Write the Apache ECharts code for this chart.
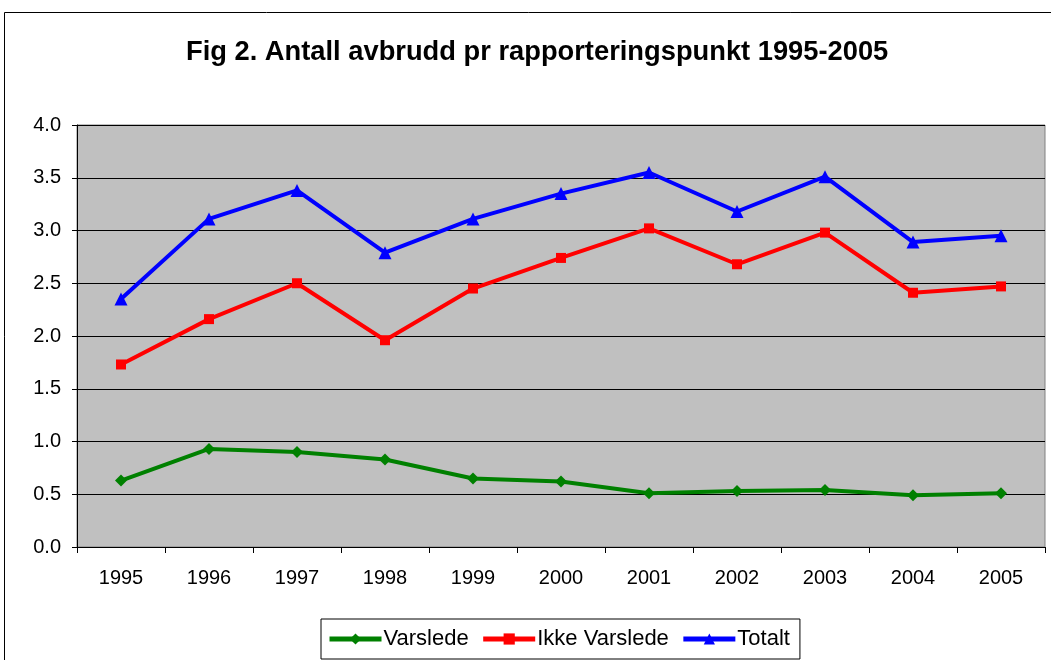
<!DOCTYPE html>
<html lang="en">
<head>
    <meta charset="UTF-8">
    <title>Fig 2</title>
    <style>
        html, body { margin: 0; padding: 0; background: #fff; }
    </style>
</head>
<body>
    <div id="main" style="height:660px; width:1051px;"></div>
    <script src="https://cdn.jsdelivr.net/npm/echarts@6/dist/echarts.min.js"></script>
    <script>
        var years = ['1995', '1996', '1997', '1998', '1999', '2000', '2001', '2002', '2003', '2004', '2005'];
        var varslede = [0.63, 0.93, 0.90, 0.83, 0.65, 0.62, 0.51, 0.53, 0.54, 0.49, 0.51];
        var ikkeVarslede = [1.73, 2.16, 2.50, 1.96, 2.45, 2.74, 3.02, 2.68, 2.98, 2.41, 2.47];
        var totalt = [2.35, 3.11, 3.38, 2.79, 3.11, 3.35, 3.55, 3.18, 3.51, 2.89, 2.95];

        var font = 'Liberation Sans, Arial, sans-serif';
        var myChart = echarts.init(document.getElementById('main'));

        function lineSeries(name, data, color, symbol, size) {
            return {
                name: name,
                type: 'line',
                data: data,
                symbol: symbol,
                symbolSize: size,
                showAllSymbol: true,
                animation: false,
                lineStyle: { color: color, width: 4 },
                itemStyle: { color: color }
            };
        }

        var option = {
            backgroundColor: '#fff',
            textStyle: { fontFamily: font },
            title: {
                text: 'Fig 2. Antall avbrudd pr rapporteringspunkt 1995-2005',
                left: 181,
                top: 34,
                textStyle: { fontFamily: font, fontSize: 27.3, fontWeight: 'bold', color: '#000' }
            },
            graphic: [{
                // outer chart frame (runs off the right and bottom edge)
                type: 'rect',
                shape: { x: 4.5, y: 12.5, width: 1100, height: 700 },
                style: { fill: null, stroke: '#000', lineWidth: 1 },
                z: -1
            }],
            legend: {
                bottom: 1,
                left: 321,
                itemWidth: 52,
                itemHeight: 14,
                itemGap: 12,
                padding: [9, 10, 9, 6],
                borderColor: '#000',
                borderWidth: 1,
                lineStyle: { width: 5 },
                textStyle: { fontFamily: font, fontSize: 22, color: '#000', padding: [0, 0, 0, -3] }
            },
            grid: {
                left: 77,
                right: 6,
                top: 125,
                bottom: 113,
                show: true,
                backgroundColor: '#c0c0c0',
                borderColor: '#808080',
                borderWidth: 1
            },
            xAxis: {
                type: 'category',
                data: years,
                boundaryGap: true,
                axisLine: { lineStyle: { color: '#000', width: 1 } },
                axisTick: { show: true, length: 6, lineStyle: { color: '#000' } },
                axisLabel: { fontFamily: font, fontSize: 20, color: '#000', margin: 21 },
                splitLine: { show: false }
            },
            yAxis: {
                type: 'value',
                min: 0,
                max: 4,
                interval: 0.5,
                axisLine: { show: true, lineStyle: { color: '#000', width: 1 } },
                axisTick: { show: true, length: 5, inside: false, lineStyle: { color: '#000' } },
                axisLabel: {
                    fontFamily: font, fontSize: 20, color: '#000', margin: 16,
                    formatter: function (v) { return v.toFixed(1); }
                },
                splitLine: { show: true, lineStyle: { color: '#000', width: 1 } }
            },
            series: [
                lineSeries('Varslede', varslede, '#008000', 'diamond', 12),
                lineSeries('Ikke Varslede', ikkeVarslede, '#ff0000', 'rect', 10),
                lineSeries('Totalt', totalt, '#0000ff', 'triangle', 13)
            ]
        };
        myChart.setOption(option);
    </script>
</body>
</html>
